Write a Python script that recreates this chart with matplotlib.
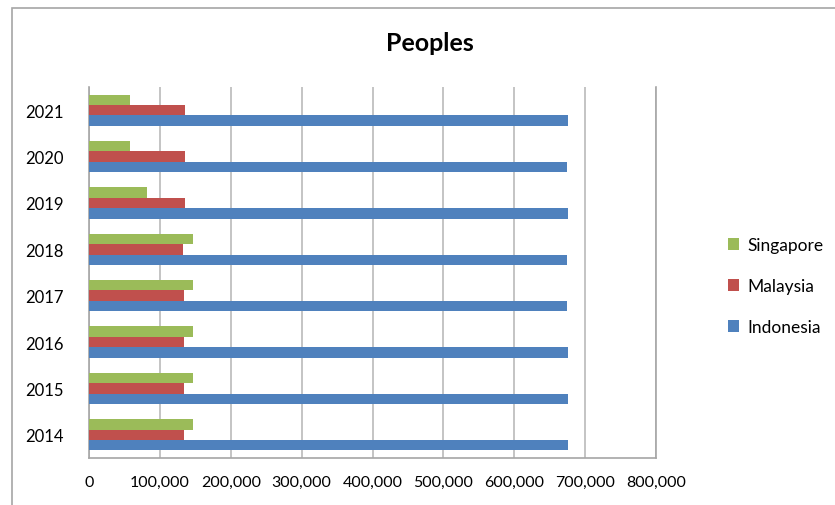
import matplotlib
matplotlib.use("Agg")
import matplotlib.pyplot as plt
import numpy as np
from matplotlib.patches import Rectangle

years = ["2014", "2015", "2016", "2017", "2018", "2019", "2020", "2021"]
indonesia = [676000, 676000, 676000, 675000, 675000, 676000, 675000, 676000]
malaysia = [134000, 134000, 134000, 134000, 133000, 136000, 136000, 136000]
singapore = [147000, 147000, 147000, 147000, 147000, 82000, 58000, 58000]
xticks = [0, 100000, 200000, 300000, 400000, 500000, 600000, 700000, 800000]

plt.rcParams['font.family'] = ['Lato', 'DejaVu Sans']

fig = plt.figure(figsize=(8.35, 5.06), dpi=100)
# chart border
fig.patches.append(Rectangle((12/835, -0.1), 1.0, 1 - 9/506 + 0.1, transform=fig.transFigure,
                             fill=False, edgecolor='#a6a6a6', linewidth=1.2))

ax = fig.add_axes([89/835, 1 - 459/506, (656-89)/835, (459-88)/506])
y = np.arange(len(years))
h = 0.225
ax.barh(y - h, indonesia, height=h, color='#4F81BD', label='Indonesia', zorder=3)
ax.barh(y, malaysia, height=h, color='#C0504D', label='Malaysia', zorder=3)
ax.barh(y + h, singapore, height=h, color='#9BBB59', label='Singapore', zorder=3)

ax.set_ylim(-0.5, 7.5)
ax.set_xlim(0, 800000)
ax.set_yticks(y)
ax.set_yticklabels(years, fontsize=12)
ax.set_xticks(xticks)
ax.set_xticklabels(["{:,}".format(v) for v in xticks], fontsize=11.5)
ax.tick_params(axis='y', length=0, pad=18)
ax.tick_params(axis='x', length=0, pad=12)
ax.grid(axis='x', color='#bfbfbf', linewidth=1.3, zorder=0)
for s in ['left', 'bottom', 'right']:
    ax.spines[s].set_color('#a6a6a6')
    ax.spines[s].set_linewidth(1.2)
ax.spines['top'].set_visible(False)

fig.text(430/835, 1 - 44/506, "Peoples", fontsize=18, fontweight='bold', ha='center', va='center')

handles, labels = ax.get_legend_handles_labels()
fig.legend(handles[::-1], labels[::-1], loc='center left', bbox_to_anchor=(712/835, 1 - 287/506),
           frameon=False, fontsize=12.5, handlelength=0.65, handleheight=0.65,
           handletextpad=0.5, labelspacing=1.45)

fig.savefig("out.png", dpi=100)
